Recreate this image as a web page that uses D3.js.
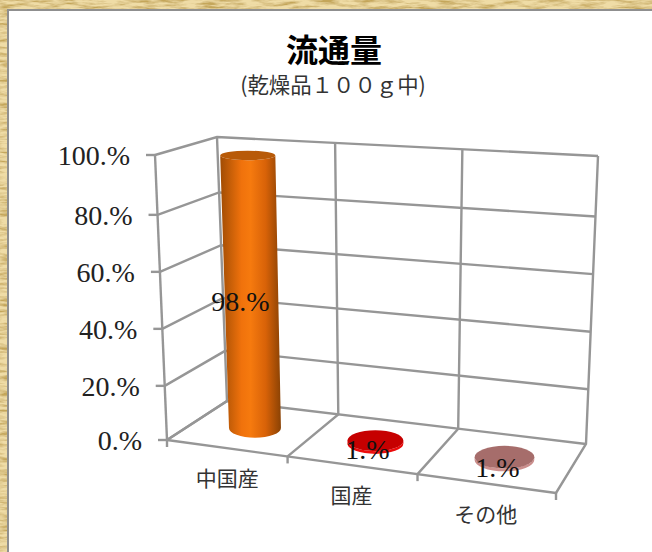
<!DOCTYPE html>
<html>
<head>
<meta charset="utf-8">
<script src="https://cdnjs.cloudflare.com/ajax/libs/d3/7.8.5/d3.min.js"></script>
<style>
  html, body { margin: 0; padding: 0; background: #fff; }
  svg { display: block; }
</style>
</head>
<body>
<svg id="chart" width="652" height="552"></svg>
<script>
const categories = ['中国産', '国産', 'その他']
const values = [98, 1, 1]
const valueLabels = ['98.%', '1.%', '1.%']
const tickValues = [0, 20, 40, 60, 80, 100]
const tickLabels = ['0.%', '20.%', '40.%', '60.%', '80.%', '100.%']
const titleText = '流通量'
const subtitleText = '(乾燥品１００ｇ中)'

const serif = '"Liberation Serif", "Noto Sans CJK JP", serif'
const cjk = '"Noto Sans CJK JP", sans-serif'
const gridColor = '#969696'

// corners of the 3d box as they land on the page
const box = {
  fl0: [167, 440], fr0: [556, 493], bl0: [227, 401], br0: [586, 444],
  fl1: [155, 155], fr1: [569, 182], bl1: [217, 137], br1: [598, 156]
}

// the perspective squeezes steps a little, so the scales are piecewise
const catScale = d3.scaleLinear().domain([0, 1, 2, 3]).range([0, 0.31, 0.644, 1])
const valScale = d3.scaleLinear().domain(tickValues).range([0, 0.19, 0.39, 0.59, 0.79, 1])

const lerp = (a, b, t) => [a[0] + (b[0] - a[0]) * t, a[1] + (b[1] - a[1]) * t]

// cat: 0..3 along the floor, val: 0..100 up, depth: 0 front .. 1 back
function project (cat, val, depth) {
  const u = catScale(cat)
  const v = valScale(val)
  const front = lerp(lerp(box.fl0, box.fr0, u), lerp(box.fl1, box.fr1, u), v)
  const back = lerp(lerp(box.bl0, box.br0, u), lerp(box.bl1, box.br1, u), v)
  return lerp(front, back, depth)
}

const svg = d3.select('#chart')
const defs = svg.append('defs')

// wood coloured page background
const wood = defs.append('filter').attr('id', 'wood')
  .attr('x', 0).attr('y', 0).attr('width', '100%').attr('height', '100%')
wood.append('feTurbulence')
  .attr('type', 'fractalNoise')
  .attr('baseFrequency', '0.05 0.3')
  .attr('numOctaves', 4)
  .attr('seed', 7)
wood.append('feColorMatrix')
  .attr('values', '0 0 0 0 0.55  0 0 0 0 0.38  0 0 0 0 0.10  2.6 0 0 0 -1.0')
wood.append('feComposite').attr('in2', 'SourceGraphic').attr('operator', 'over')

svg.append('rect')
  .attr('width', 652).attr('height', 552)
  .attr('fill', '#efdca6')
  .attr('filter', 'url(#wood)')

svg.append('rect')
  .attr('x', 8).attr('y', 10).attr('width', 660).attr('height', 560)
  .attr('fill', '#fff')
  .attr('stroke', '#8f8f8f')
  .attr('stroke-width', 2)

svg.append('text')
  .attr('x', 334).attr('y', 62)
  .attr('text-anchor', 'middle')
  .attr('font-family', cjk)
  .attr('font-weight', 700)
  .attr('font-size', 32)
  .attr('fill', '#000')
  .text(titleText)

svg.append('text')
  .attr('x', 333).attr('y', 93)
  .attr('text-anchor', 'middle')
  .attr('font-family', cjk)
  .attr('font-size', 21.4)
  .attr('fill', '#333')
  .text(subtitleText)

const line = d3.line()
const grid = svg.append('g')
  .attr('fill', 'none')
  .attr('stroke', gridColor)
  .attr('stroke-width', 2.4)

// value gridlines: left wall then back wall
grid.selectAll('.val')
  .data(tickValues)
  .join('path')
  .attr('class', 'val')
  .attr('d', d => line([project(0, d, 0), project(0, d, 1), project(3, d, 1)]))

// category gridlines on back wall and floor
grid.selectAll('.cat')
  .data(d3.range(categories.length + 1))
  .join('path')
  .attr('class', 'cat')
  .attr('d', d => line([project(d, 0, 0), project(d, 0, 1), project(d, 100, 1)]))

// floor front edge, left wall front edge
grid.append('path').attr('d', line([project(0, 0, 0), project(3, 0, 0)]))
grid.append('path').attr('d', line([project(0, 0, 0), project(0, 100, 0)]))

// tick marks
grid.selectAll('.ytick')
  .data(tickValues)
  .join('path')
  .attr('class', 'ytick')
  .attr('d', d => {
    const p = project(0, d, 0)
    return line([[p[0] - 9, p[1]], p])
  })
grid.selectAll('.xtick')
  .data(d3.range(categories.length + 1))
  .join('path')
  .attr('class', 'xtick')
  .attr('d', d => {
    const p = project(d, 0, 0)
    return line([p, [p[0], p[1] + 7]])
  })

svg.append('g')
  .selectAll('text')
  .data(tickValues)
  .join('text')
  .attr('x', d => project(0, d, 0)[0] - 25)
  .attr('y', d => project(0, d, 0)[1] + 10)
  .attr('text-anchor', 'end')
  .attr('font-family', serif)
  .attr('font-size', 28)
  .attr('fill', '#222')
  .text((d, i) => tickLabels[i])

svg.append('g')
  .selectAll('text')
  .data(categories)
  .join('text')
  .attr('x', (d, i) => project(i + 0.5, 0, 0)[0] + [0, -1, -1][i])
  .attr('y', (d, i) => project(i + 0.5, 0, 0)[1] + 38)
  .attr('text-anchor', 'middle')
  .attr('font-family', cjk)
  .attr('font-size', 21)
  .attr('fill', '#333')
  .text(d => d)

// cylinders, one colour set per category
const sideStops = [
  [[0, '#a04c04'], [0.35, '#f0720c'], [0.5, '#f67a0e'], [0.75, '#d86208'], [1, '#8a4204']],
  [[0, '#e80808'], [0.5, '#f01010'], [1, '#e80808']],
  [[0, '#c98c8a'], [0.5, '#d09492'], [1, '#c98c8a']]
]
const capColors = ['#b85a08', '#c60000', '#a66d6b']

sideStops.forEach((stops, i) => {
  const g = defs.append('linearGradient').attr('id', `side${i}`)
  stops.forEach(s => g.append('stop').attr('offset', s[0]).attr('stop-color', s[1]))
})

const barHalf = 0.224 // half width, in categories
const barDepth = 0.24 // half depth, share of floor depth

function ellipseAt (i, val) {
  const c = project(i + 0.5, val, 0.5)
  const left = project(i + 0.5 - barHalf, val, 0.5)
  const right = project(i + 0.5 + barHalf, val, 0.5)
  const front = project(i + 0.5, val, 0)
  const back = project(i + 0.5, val, 1)
  return { x: c[0], y: c[1], rx: (right[0] - left[0]) / 2, ry: (front[1] - back[1]) * barDepth }
}

const bars = svg.append('g')
  .selectAll('g')
  .data(values)
  .join('g')

bars.append('path')
  .attr('fill', (d, i) => `url(#side${i})`)
  .attr('d', (d, i) => {
    const top = ellipseAt(i, d)
    const bot = ellipseAt(i, 0)
    return `M${top.x - top.rx},${top.y}` +
      `L${bot.x - bot.rx},${bot.y}` +
      `A${bot.rx},${bot.ry} 0 0 0 ${bot.x + bot.rx},${bot.y}` +
      `L${top.x + top.rx},${top.y}` +
      `A${top.rx},${top.ry} 0 0 1 ${top.x - top.rx},${top.y}Z`
  })

bars.append('ellipse')
  .attr('fill', (d, i) => capColors[i])
  .each(function (d, i) {
    const e = ellipseAt(i, d)
    d3.select(this).attr('cx', e.x).attr('cy', e.y).attr('rx', e.rx).attr('ry', e.ry)
  })

// labels sit on the middle of each bar, nudged like the office chart does
svg.append('g')
  .selectAll('text')
  .data(values)
  .join('text')
  .attr('x', (d, i) => project(i + 0.5, d / 2, 0.5)[0] + [-11, -8, -7][i])
  .attr('y', (d, i) => project(i + 0.5, d / 2, 0.5)[1] + [17, 17, 18][i])
  .attr('text-anchor', 'middle')
  .attr('font-family', serif)
  .attr('font-size', 28)
  .attr('fill', '#111')
  .text((d, i) => valueLabels[i])
</script>
</body>
</html>
